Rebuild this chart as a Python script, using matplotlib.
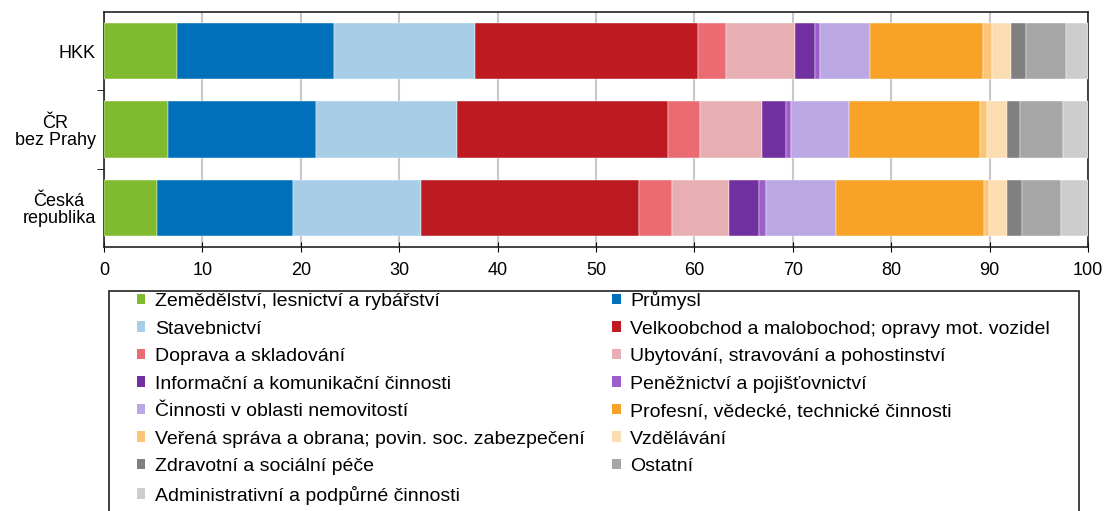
import matplotlib.pyplot as plt
from matplotlib.patches import Patch, Rectangle
import numpy as np

plt.rcParams['font.family'] = ['Liberation Sans', 'DejaVu Sans']

# kategorie (shora dolů)
regions = ['HKK', 'ČR\nbez Prahy', 'Česká\nrepublika']

sectors = [
    'Zemědělství, lesnictví a rybářství',
    'Průmysl',
    'Stavebnictví',
    'Velkoobchod a malobochod; opravy mot. vozidel',
    'Doprava a skladování',
    'Ubytování, stravování a pohostinství',
    'Informační a komunikační činnosti',
    'Peněžnictví a pojišťovnictví',
    'Činnosti v oblasti nemovitostí',
    'Profesní, vědecké, technické činnosti',
    'Veřená správa a obrana; povin. soc. zabezpečení',
    'Vzdělávání',
    'Zdravotní a sociální péče',
    'Ostatní',
    'Administrativní a podpůrné činnosti',
]

colors = ['#80BA2E', '#0070BA', '#A7CDE7', '#BD1A22', '#EB6B73', '#E7AFB3',
          '#7030A0', '#9D5DCB', '#BCA7E5', '#F8A228', '#FAC578', '#FCDDB1',
          '#808080', '#A6A6A6', '#CDCDCD']

# podíly (%) pro HKK, ČR bez Prahy, Česká republika
hkk = [7.4, 16.0, 14.3, 22.7, 2.8, 7.0, 2.1, 0.5, 5.0, 11.5, 0.9, 2.0, 1.5, 4.1, 2.2]
cr_bez_prahy = [6.5, 15.0, 14.4, 21.4, 3.3, 6.3, 2.4, 0.5, 5.9, 13.3, 0.7, 2.1, 1.3, 4.4, 2.5]
cr = [5.4, 13.8, 13.0, 22.2, 3.3, 5.8, 3.1, 0.7, 7.1, 15.0, 0.5, 1.9, 1.5, 4.0, 2.7]

data = np.array([hkk, cr_bez_prahy, cr])

fig = plt.figure(figsize=(11.05, 5.11), dpi=100)
ax = fig.add_axes([104/1105, 1 - 247/511, 984/1105, 235/511])

y = np.arange(len(regions))
left = np.zeros(len(regions))
for i in range(len(sectors)):
    ax.barh(y, data[:, i], left=left, height=0.72, color=colors[i],
            edgecolor='white', linewidth=0.3, zorder=3)
    left += data[:, i]

ax.set_xlim(0, 100)
ax.set_ylim(2.5, -0.5)
ax.set_xticks(range(0, 101, 10))
ax.set_yticks(y)
ax.set_yticklabels(regions, fontsize=13)
for lab in ax.get_yticklabels():
    lab.set_multialignment('center')
    lab.set_linespacing(1.0)
ax.set_yticks([0.5, 1.5], minor=True)
ax.tick_params(axis='y', which='major', length=0, pad=6)
ax.tick_params(axis='y', which='minor', length=5, direction='out')
ax.tick_params(axis='x', direction='inout', length=7, labelsize=13, pad=7)
ax.grid(axis='x', color='#C8C8C8', linewidth=1.5, zorder=0)
for s in ax.spines.values():
    s.set_color('#222222')
    s.set_linewidth(1.2)

# legenda - pořadí po řádcích (2 sloupce)
order = list(range(0, len(sectors), 2)) + list(range(1, len(sectors), 2))
handles = [Patch(facecolor=colors[i], edgecolor='none') for i in order]
labels = [sectors[i] for i in order]
fig.legend(handles, labels, loc='upper left', ncol=2, mode='expand',
           bbox_to_anchor=(137/1105, 0, 913/1105, (511 - 291)/511),
           frameon=False, borderpad=0, borderaxespad=0, fontsize=14,
           handlelength=0.43, handleheight=0.43, handletextpad=0.5,
           labelspacing=0.54)
fig.patches.append(Rectangle((109/1105, -0.1), 970/1105, (511 - 291)/511 + 0.1,
                             transform=fig.transFigure, fill=False,
                             edgecolor='#222222', linewidth=1.2))

plt.savefig('out.png', dpi=100)
